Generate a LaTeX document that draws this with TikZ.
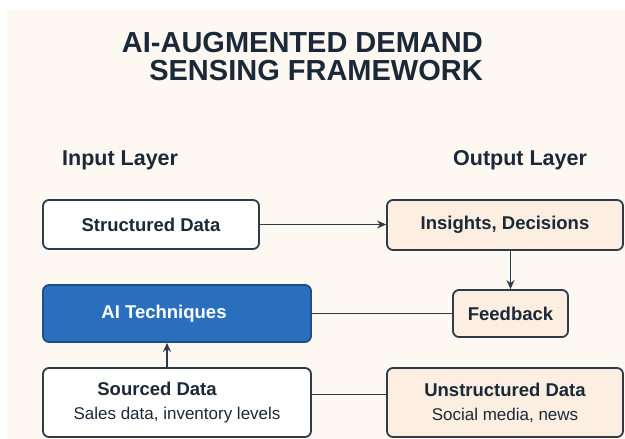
\documentclass[tikz,border=0pt]{standalone}
\usepackage{fontspec}
\setmainfont{Liberation Sans}
\usetikzlibrary{arrows.meta,calc}
\definecolor{cream}{HTML}{FDF9F2}
\definecolor{peach}{HTML}{FCEFE1}
\definecolor{ink}{HTML}{1B2838}
\definecolor{edge}{HTML}{2F3B47}
\definecolor{aiblue}{HTML}{2A6EBE}
\definecolor{aiedge}{HTML}{1E4E86}
\tikzset{
  box/.style={draw=edge, line width=1.8pt, rounded corners=6pt, inner sep=0pt,
    text=ink, font=\fontsize{18.5}{22}\selectfont\bfseries, align=center},
  whitebox/.style={box, fill=white},
  peachbox/.style={box, fill=peach},
  bluebox/.style={box, fill=aiblue, draw=aiedge, text=white},
  link/.style={draw=edge, line width=1.8pt},
  arr/.style={link, -{Stealth[length=9pt,width=8pt]}},
  layer/.style={anchor=base west, inner sep=0pt, text=ink, font=\fontsize{21.5}{24}\selectfont\bfseries}
}
\begin{document}
\begin{tikzpicture}[x=1pt,y=-1pt]
\useasboundingbox (0,0) rectangle (625,439);
\fill[white] (0,0) rectangle (625,439);
\fill[cream] (7,10) rectangle (625,439);

\node[anchor=north east, inner sep=0pt, align=right, text=ink,
  font=\fontsize{29}{28}\selectfont\bfseries] (title) at (483,32.5)
  {AI-AUGMENTED DEMAND\\SENSING FRAMEWORK};

\node[layer] (inl) at (62,165) {Input Layer};
\node[layer] (outl) at (453,165) {Output Layer};

\node[whitebox, minimum width=216pt, minimum height=49pt] (sd) at (151,224.5) {Structured Data};
\node[peachbox, minimum width=236pt, minimum height=50pt] (ins) at (505,225) {Insights, Decisions};
\node[peachbox, minimum width=115pt, minimum height=47pt] (fb) at (510.5,313.5) {Feedback};
\node[bluebox, minimum width=268pt, minimum height=57pt] (ai) at (177,313.5) {AI Techniques\hspace*{26pt}};
\node[whitebox, minimum width=268pt, minimum height=69pt] (src) at (177,402.5)
  {Sourced Data\hspace*{40pt}\\[2pt]{\fontsize{17}{20}\selectfont\mdseries Sales data, inventory levels}};
\node[peachbox, minimum width=236pt, minimum height=69pt] (uns) at (505,402.5)
  {Unstructured Data\\[2pt]{\fontsize{17}{20}\selectfont\mdseries Social media, news}};

\draw[arr] (sd.east) -- (sd.east -| ins.west);
\draw[arr] (ins.south -| fb.north) -- (fb.north);
\draw[link] (ai.east) -- (fb.west);
\draw[arr] ([xshift=-10pt]src.north) -- ([xshift=-10pt]src.north |- ai.south);
\draw[link] ([yshift=8pt]src.east) -- ([yshift=8pt]src.east -| uns.west);
\end{tikzpicture}
\end{document}
